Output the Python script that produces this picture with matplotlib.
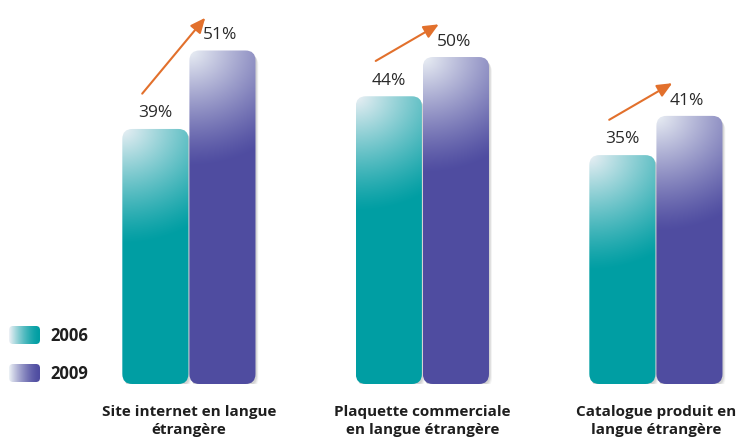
import numpy as np
import matplotlib
matplotlib.use("Agg")
import matplotlib.pyplot as plt
from matplotlib.patches import FancyBboxPatch

plt.rcParams['font.family'] = ['Open Sans', 'DejaVu Sans']

# ---- data ----
categories = ["Site internet en langue\nétrangère",
              "Plaquette commerciale\nen langue étrangère",
              "Catalogue produit en\nlangue étrangère"]
years = ["2006", "2009"]
values_2006 = [39, 44, 35]
values_2009 = [51, 50, 41]

TEAL = (0.0, 0.62, 0.64)
PURPLE = (0.31, 0.30, 0.63)
LIGHT = (0.92, 0.94, 0.96)
ARROW = "#E2702C"

W, H = 736, 441
fig = plt.figure(figsize=(W / 100, H / 100), dpi=100)
fig.patch.set_facecolor("white")

# pixel-space overlay for the legend
leg = fig.add_axes([0, 0, 1, 1])
leg.set_xlim(0, W)
leg.set_ylim(H, 0)
leg.axis("off")

ax = fig.add_axes([0, 57 / H, 1, 384 / H])
ax.set_xlim(-0.809, 2.343)
ax.set_ylim(0, 58.72)
for s in ax.spines.values():
    s.set_visible(False)
ax.set_yticks([])
ax.patch.set_alpha(0)

bar_w = 0.283
gap = 0.0043
radius_px = 10


def gradient(base, w, h, R=115.0):
    yy, xx = np.mgrid[0:h, 0:w]
    d = np.sqrt((xx * 0.9) ** 2 + yy ** 2)
    t = np.clip(d / R, 0, 1)
    mix = ((1 - t) ** 1.2)[..., None]
    img = np.array(base)[None, None, :] * (1 - mix) + np.array(LIGHT)[None, None, :] * mix
    return img


def draw_bar(axis, x0, width, value, base):
    # pixel size of the bar through the data transform
    p0 = axis.transData.transform((x0, 0))
    p1 = axis.transData.transform((x0 + width, value))
    wpx, hpx = abs(p1[0] - p0[0]), abs(p1[1] - p0[1])
    ux = width / wpx
    uy = value / hpx
    aspect = uy / ux
    rs = radius_px * ux
    # soft shadow
    for k, a in enumerate([0.06, 0.05, 0.04, 0.03]):
        off = (k + 2)
        sh = FancyBboxPatch((x0 + off * ux * 0.6, -off * uy * 0.9), width, value,
                            boxstyle=f"round,pad=0,rounding_size={rs}",
                            mutation_aspect=aspect, facecolor="black",
                            edgecolor="none", alpha=a, zorder=1)
        axis.add_patch(sh)
    patch = FancyBboxPatch((x0, 0), width, value,
                           boxstyle=f"round,pad=0,rounding_size={rs}",
                           mutation_aspect=aspect, facecolor="none",
                           edgecolor="none", zorder=2)
    axis.add_patch(patch)
    img = gradient(base, int(round(wpx)), int(round(hpx)))
    im = axis.imshow(img, extent=(x0, x0 + width, 0, value), origin="upper",
                     aspect="auto", zorder=2, interpolation="bilinear")
    im.set_clip_path(patch)


x = np.arange(len(categories))
for i in range(len(categories)):
    xa = x[i] - bar_w - gap / 2
    xb = x[i] + gap / 2
    draw_bar(ax, xa, bar_w, values_2006[i], TEAL)
    draw_bar(ax, xb, bar_w, values_2009[i], PURPLE)
    ax.text(xa + bar_w / 2, values_2006[i] + 2.4, f"{values_2006[i]}%",
            ha="center", va="center", fontsize=12.5, color="#2a2a2a", zorder=3)
    ax.text(xb + bar_w / 2 - 0.01, values_2009[i] + 2.3, f"{values_2009[i]}%",
            ha="center", va="center", fontsize=12.5, color="#2a2a2a", zorder=3)
    ax.annotate("", xy=(x[i] + 0.07, values_2009[i] + 5.0),
                xytext=(x[i] - 0.2, values_2006[i] + 5.4),
                arrowprops=dict(arrowstyle="-|>,head_length=0.9,head_width=0.4",
                                color=ARROW, lw=1.5, shrinkA=0, shrinkB=0),
                zorder=3, annotation_clip=False)

ax.set_xticks(x, categories)
ax.tick_params(axis="x", length=0, pad=15)
for lbl in ax.get_xticklabels():
    lbl.set_fontweight("bold")
    lbl.set_fontsize(11)
    lbl.set_color("#1e1e1e")
    lbl.set_linespacing(1.38)

# legend swatches
for j, (name, base) in enumerate(zip(years, [TEAL, PURPLE])):
    y0 = 326 + j * 38
    sw = FancyBboxPatch((9, y0), 31, 18, boxstyle="round,pad=0,rounding_size=4",
                        facecolor="none", edgecolor="none")
    leg.add_patch(sw)
    xx = np.linspace(0, 1, 31)
    row = np.array(LIGHT)[None, :] * (1 - xx[:, None]) ** 1.5 + np.array(base)[None, :] * (1 - (1 - xx[:, None]) ** 1.5)
    img = np.repeat(row[None, :, :], 18, axis=0)
    im = leg.imshow(img, extent=(9, 40, y0 + 18, y0), aspect="auto")
    im.set_clip_path(sw)
    leg.text(50, y0 + 10, name, ha="left", va="center", fontsize=12,
             fontweight="bold", color="#1e1e1e")

leg.set_xlim(0, W)
leg.set_ylim(H, 0)

fig.savefig("out.png", dpi=100)
